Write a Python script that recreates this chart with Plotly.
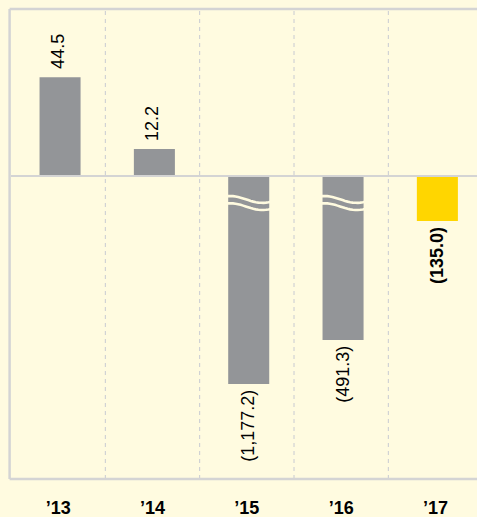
import math
import plotly.graph_objects as go

# ---- data ----
years = ["\u201913", "\u201914", "\u201915", "\u201916", "\u201917"]
values = [44.5, 12.2, -1177.2, -491.3, -135.0]
highlight = [False, False, False, False, True]
broken = [False, False, True, True, False]

# ---- style ----
BG = "#FFFBE0"
GRAY = "#939598"
YELLOW = "#FFD600"
BORDER = "#D4D4D4"
GRID = "#C8CAD2"
FONT = "Liberation Sans, Arial, sans-serif"

# broken negative axis: lengths beyond CAP are compressed
CAP = 500.0
RATIO = 0.181


def disp(v):
    a = abs(v)
    if a <= CAP:
        return v
    return math.copysign(CAP + (a - CAP) * RATIO, v)


def fmt(v):
    s = f"{abs(v):,.1f}"
    return f"({s})" if v < 0 else s


BAR_W = 0.435
BAR_OFF = -BAR_W / 2 + 0.02

pos_y = [v if v >= 0 else None for v in values]
neg_y = [disp(v) if v < 0 else None for v in values]
colors = [YELLOW if h else GRAY for h in highlight]

fig = go.Figure()
fig.add_trace(go.Bar(x=years, y=pos_y, width=BAR_W, offset=BAR_OFF,
                     marker=dict(color=colors, line=dict(width=0)),
                     yaxis="y", hoverinfo="skip"))
fig.add_trace(go.Bar(x=years, y=neg_y, width=BAR_W, offset=BAR_OFF,
                     marker=dict(color=colors, line=dict(width=0)),
                     yaxis="y2", hoverinfo="skip"))

annotations = []
for i, (yr, v) in enumerate(zip(years, values)):
    bold = highlight[i]
    txt = fmt(v)
    if v >= 0:
        annotations.append(dict(x=yr, y=v, xref="x", yref="y", text=txt,
                                textangle=-90, showarrow=False,
                                xanchor="center", yanchor="bottom",
                                xshift=0, yshift=6,
                                font=dict(family=FONT, size=18, color="#000",
                                          weight=700 if bold else 400)))
    else:
        annotations.append(dict(x=yr, y=disp(v), xref="x", yref="y2", text=txt,
                                textangle=-90, showarrow=False,
                                xanchor="center", yanchor="top",
                                xshift=1, yshift=-4,
                                font=dict(family=FONT, size=18, color="#000",
                                          weight=700 if bold else 400)))

shapes = []
# dashed vertical separators between categories
for k in range(len(years) - 1):
    shapes.append(dict(type="line", xref="x", yref="paper",
                       x0=k + 0.5, x1=k + 0.5, y0=0, y1=1,
                       line=dict(color=GRID, width=1, dash="4px,4px"),
                       layer="below"))
# zero line
shapes.append(dict(type="line", xref="paper", yref="y", x0=0, x1=1, y0=0, y1=0,
                   line=dict(color=BORDER, width=2)))
# plot frame (left, top, bottom)
shapes.append(dict(type="line", xref="paper", yref="paper", x0=-0.003, x1=-0.003,
                   y0=0, y1=1, line=dict(color=BORDER, width=2.5)))
shapes.append(dict(type="line", xref="paper", yref="paper", x0=-0.003, x1=1,
                   y0=1, y1=1, line=dict(color=BORDER, width=2.5)))
shapes.append(dict(type="line", xref="paper", yref="paper", x0=-0.003, x1=1,
                   y0=0, y1=0, line=dict(color=BORDER, width=2.5)))


# axis-break wave marks
def wave(dy):
    pts = []
    n = 24
    for j in range(n + 1):
        x = -31 + 61 * j / n
        y = dy + 3.4 * math.sin((x + 31) / 61 * 2 * math.pi * 0.95 + 0.35)
        pts.append((x, y))
    return "M " + " L ".join(f"{x:.2f},{y:.2f}" for x, y in pts)


BREAK_MARK_AT = -81
for i, b in enumerate(broken):
    if not b:
        continue
    for dy in (3.6, -3.6):
        shapes.append(dict(type="path", xref="x", yref="y2",
                           xsizemode="pixel", ysizemode="pixel",
                           xanchor=i + 0.02, yanchor=BREAK_MARK_AT,
                           path=wave(dy),
                           line=dict(color=BG, width=2.6)))

POS_PX = 2.22
NEG_PX = 0.334
PLOT_TOP_PX = 167
PLOT_BOT_PX = 303

fig.update_layout(
    width=477, height=517, autosize=False,
    margin=dict(l=11, r=0, t=9, b=38, pad=0),
    paper_bgcolor=BG, plot_bgcolor=BG,
    showlegend=False, barmode="overlay",
    xaxis=dict(type="category", range=[-0.5, 4.44], showgrid=False,
               showline=False, zeroline=False, ticks="outside", ticklen=12,
               tickcolor="rgba(0,0,0,0)",
               tickfont=dict(family=FONT, size=18, color="#000", weight=700),
               fixedrange=True),
    yaxis=dict(range=[-PLOT_BOT_PX / POS_PX, PLOT_TOP_PX / POS_PX],
               visible=False, fixedrange=True),
    yaxis2=dict(range=[-PLOT_BOT_PX / NEG_PX, PLOT_TOP_PX / NEG_PX],
                overlaying="y", visible=False, fixedrange=True),
    annotations=annotations,
    shapes=shapes,
)

fig.write_html(
    "out.html",
    config={"displayModeBar": False},
    post_script="document.body.style.margin='0';document.body.style.background='%s';" % BG,
)
